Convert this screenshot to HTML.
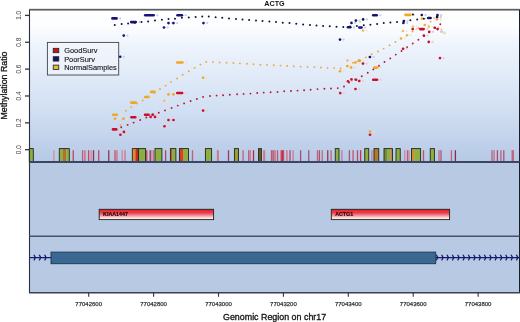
<!DOCTYPE html>
<html><head><meta charset="utf-8"><style>
html,body{margin:0;padding:0;background:#fff;width:520px;height:322px;overflow:hidden}
svg{display:block;will-change:transform}
</style></head><body>
<svg width="520" height="322" viewBox="0 0 520 322">
<defs>
<linearGradient id="bg" x1="0" y1="0" x2="0" y2="1">
<stop offset="0" stop-color="#ffffff"/>
<stop offset="0.1" stop-color="#fdfeff"/>
<stop offset="0.25" stop-color="#edf3fc"/>
<stop offset="0.65" stop-color="#d2e0f3"/>
<stop offset="1" stop-color="#b5c9e5"/>
</linearGradient>
<linearGradient id="gene" x1="0" y1="0" x2="0" y2="1">
<stop offset="0" stop-color="#d01c26"/>
<stop offset="0.15" stop-color="#e63036"/>
<stop offset="0.35" stop-color="#ea4046"/>
<stop offset="0.6" stop-color="#f0909a"/>
<stop offset="0.85" stop-color="#fde6e2"/>
<stop offset="1" stop-color="#fff4ee"/>
</linearGradient>
</defs>
<style>text{paint-order:stroke} .t1{stroke:#111;stroke-width:0.3px} .t2{stroke:#444;stroke-width:0.25px} .t3{stroke:#151515;stroke-width:0.12px}</style>
<rect x="0" y="0" width="520" height="322" fill="#ffffff"/>
<rect x="29.5" y="9.5" width="490.0" height="152.5" fill="url(#bg)"/>
<rect x="29.5" y="162.0" width="490.0" height="130.8" fill="#b7c9e3"/>

<rect x="29.30" y="148.6" width="4.00" height="13.40" fill="#8cae42"/>
<rect x="29.30" y="148.6" width="4.00" height="13.40" fill="none" stroke="#1e2a1a" stroke-width="0.9"/>
<rect x="59.30" y="148.6" width="3.50" height="13.40" fill="#8cae42"/>
<rect x="62.80" y="148.6" width="3.50" height="13.40" fill="#b0702a"/>
<rect x="66.30" y="148.6" width="3.00" height="13.40" fill="#8cae42"/>
<rect x="59.30" y="148.6" width="10.00" height="13.40" fill="none" stroke="#1e2a1a" stroke-width="0.9"/>
<rect x="132.30" y="148.6" width="3.15" height="13.40" fill="#e08a2a"/>
<rect x="135.45" y="148.6" width="3.15" height="13.40" fill="#c82a20"/>
<rect x="132.30" y="148.6" width="6.30" height="13.40" fill="none" stroke="#1e2a1a" stroke-width="0.9"/>
<rect x="138.60" y="148.6" width="7.00" height="13.40" fill="#8cae42"/>
<rect x="138.60" y="148.6" width="7.00" height="13.40" fill="none" stroke="#1e2a1a" stroke-width="0.9"/>
<rect x="155.00" y="148.6" width="6.90" height="13.40" fill="#8cae42"/>
<rect x="155.00" y="148.6" width="6.90" height="13.40" fill="none" stroke="#1e2a1a" stroke-width="0.9"/>
<rect x="170.40" y="148.6" width="2.20" height="13.40" fill="#c05a30"/>
<rect x="172.60" y="148.6" width="3.30" height="13.40" fill="#8cae42"/>
<rect x="170.40" y="148.6" width="5.50" height="13.40" fill="none" stroke="#1e2a1a" stroke-width="0.9"/>
<rect x="179.40" y="148.6" width="4.09" height="13.40" fill="#d8401e"/>
<rect x="183.50" y="148.6" width="5.00" height="13.40" fill="#8cae42"/>
<rect x="179.40" y="148.6" width="9.10" height="13.40" fill="none" stroke="#1e2a1a" stroke-width="0.9"/>
<rect x="205.40" y="148.6" width="6.20" height="13.40" fill="#8cae42"/>
<rect x="205.40" y="148.6" width="6.20" height="13.40" fill="none" stroke="#1e2a1a" stroke-width="0.9"/>
<rect x="234.40" y="148.6" width="4.10" height="13.40" fill="#9a9a3a"/>
<rect x="234.40" y="148.6" width="4.10" height="13.40" fill="none" stroke="#1e2a1a" stroke-width="0.9"/>
<rect x="258.50" y="148.6" width="2.90" height="13.40" fill="#6a5a2a"/>
<rect x="258.50" y="148.6" width="2.90" height="13.40" fill="none" stroke="#1e2a1a" stroke-width="0.9"/>
<rect x="335.25" y="148.6" width="3.75" height="13.40" fill="#8cae42"/>
<rect x="335.25" y="148.6" width="3.75" height="13.40" fill="none" stroke="#1e2a1a" stroke-width="0.9"/>
<rect x="364.75" y="148.6" width="4.00" height="13.40" fill="#8cae42"/>
<rect x="364.75" y="148.6" width="4.00" height="13.40" fill="none" stroke="#1e2a1a" stroke-width="0.9"/>
<rect x="374.00" y="148.6" width="4.75" height="13.40" fill="#b0782a"/>
<rect x="374.00" y="148.6" width="4.75" height="13.40" fill="none" stroke="#1e2a1a" stroke-width="0.9"/>
<rect x="384.00" y="148.6" width="3.40" height="13.40" fill="#788a3a"/>
<rect x="387.40" y="148.6" width="2.97" height="13.40" fill="#8cae42"/>
<rect x="390.38" y="148.6" width="2.12" height="13.40" fill="#c08a3a"/>
<rect x="384.00" y="148.6" width="8.50" height="13.40" fill="none" stroke="#1e2a1a" stroke-width="0.9"/>
<rect x="396.00" y="148.6" width="4.25" height="13.40" fill="#8cae42"/>
<rect x="396.00" y="148.6" width="4.25" height="13.40" fill="none" stroke="#1e2a1a" stroke-width="0.9"/>
<rect x="411.50" y="148.6" width="2.73" height="13.40" fill="#d88a2a"/>
<rect x="414.23" y="148.6" width="6.37" height="13.40" fill="#8cae42"/>
<rect x="411.50" y="148.6" width="9.10" height="13.40" fill="none" stroke="#1e2a1a" stroke-width="0.9"/>
<rect x="430.25" y="148.6" width="4.15" height="13.40" fill="#8cae42"/>
<rect x="430.25" y="148.6" width="4.15" height="13.40" fill="none" stroke="#1e2a1a" stroke-width="0.9"/>
<rect x="53.25" y="150.2" width="1.3" height="11.80" fill="#ca8b97" fill-opacity="0.9"/>
<rect x="72.60" y="150.2" width="1.3" height="11.80" fill="#c9344d" fill-opacity="0.9"/>
<rect x="81.95" y="150.2" width="1.3" height="11.80" fill="#d04763" fill-opacity="0.9"/>
<rect x="84.25" y="150.2" width="1.3" height="11.80" fill="#d0546f" fill-opacity="0.9"/>
<rect x="87.95" y="150.2" width="1.3" height="11.80" fill="#c2395a" fill-opacity="0.9"/>
<rect x="90.45" y="150.2" width="1.3" height="11.80" fill="#d77d91" fill-opacity="0.9"/>
<rect x="92.85" y="150.2" width="1.3" height="11.80" fill="#8c1e3f" fill-opacity="0.9"/>
<rect x="98.10" y="150.2" width="1.3" height="11.80" fill="#c23953" fill-opacity="0.9"/>
<rect x="108.10" y="150.2" width="1.3" height="11.80" fill="#8c2546" fill-opacity="0.9"/>
<rect x="114.35" y="150.2" width="1.3" height="11.80" fill="#d0415a" fill-opacity="0.9"/>
<rect x="116.25" y="150.2" width="1.3" height="11.80" fill="#d06275" fill-opacity="0.9"/>
<rect x="121.60" y="150.2" width="1.3" height="11.80" fill="#d77d91" fill-opacity="0.9"/>
<rect x="124.35" y="150.2" width="1.3" height="11.80" fill="#d0697c" fill-opacity="0.9"/>
<rect x="146.10" y="150.2" width="1.3" height="11.80" fill="#c22b3f" fill-opacity="0.9"/>
<rect x="149.55" y="150.2" width="1.3" height="11.80" fill="#8c1e4d" fill-opacity="0.9"/>
<rect x="150.95" y="150.2" width="1.3" height="11.80" fill="#de8b9e" fill-opacity="0.9"/>
<rect x="152.75" y="150.2" width="1.3" height="11.80" fill="#d06268" fill-opacity="0.9"/>
<rect x="164.95" y="150.2" width="1.3" height="11.80" fill="#b53253" fill-opacity="0.9"/>
<rect x="191.85" y="150.2" width="1.3" height="11.80" fill="#c25468" fill-opacity="0.9"/>
<rect x="216.85" y="150.2" width="1.3" height="11.80" fill="#d0768a" fill-opacity="0.9"/>
<rect x="217.65" y="150.2" width="1.3" height="11.80" fill="#d0768a" fill-opacity="0.9"/>
<rect x="227.85" y="150.2" width="1.3" height="11.80" fill="#9a2b4d" fill-opacity="0.9"/>
<rect x="242.45" y="150.2" width="1.3" height="11.80" fill="#c2546f" fill-opacity="0.9"/>
<rect x="248.10" y="150.2" width="1.3" height="11.80" fill="#c24768" fill-opacity="0.9"/>
<rect x="249.60" y="150.2" width="1.3" height="11.80" fill="#d06983" fill-opacity="0.9"/>
<rect x="252.85" y="150.2" width="1.3" height="11.80" fill="#b51731" fill-opacity="0.9"/>
<rect x="263.10" y="150.2" width="1.3" height="11.80" fill="#d0768a" fill-opacity="0.9"/>
<rect x="263.95" y="150.2" width="1.3" height="11.80" fill="#d0768a" fill-opacity="0.9"/>
<rect x="270.85" y="150.2" width="1.3" height="11.80" fill="#c24761" fill-opacity="0.9"/>
<rect x="272.45" y="150.2" width="1.3" height="11.80" fill="#b5395a" fill-opacity="0.9"/>
<rect x="274.35" y="150.2" width="1.3" height="11.80" fill="#c95468" fill-opacity="0.9"/>
<rect x="276.85" y="150.2" width="1.3" height="11.80" fill="#c2475a" fill-opacity="0.9"/>
<rect x="280.55" y="150.2" width="1.3" height="11.80" fill="#d02b46" fill-opacity="0.9"/>
<rect x="281.75" y="150.2" width="1.3" height="11.80" fill="#c91e38" fill-opacity="0.9"/>
<rect x="282.85" y="150.2" width="1.3" height="11.80" fill="#d0394d" fill-opacity="0.9"/>
<rect x="286.25" y="150.2" width="1.3" height="11.80" fill="#d06275" fill-opacity="0.9"/>
<rect x="289.35" y="150.2" width="1.3" height="11.80" fill="#b5395a" fill-opacity="0.9"/>
<rect x="292.45" y="150.2" width="1.3" height="11.80" fill="#d06f83" fill-opacity="0.9"/>
<rect x="299.95" y="150.2" width="1.3" height="11.80" fill="#a74068" fill-opacity="0.9"/>
<rect x="308.10" y="150.2" width="1.3" height="11.80" fill="#a04768" fill-opacity="0.9"/>
<rect x="316.85" y="150.2" width="1.3" height="11.80" fill="#c25468" fill-opacity="0.9"/>
<rect x="318.75" y="150.2" width="1.3" height="11.80" fill="#b5405a" fill-opacity="0.9"/>
<rect x="321.60" y="150.2" width="1.3" height="11.80" fill="#c26275" fill-opacity="0.9"/>
<rect x="327.10" y="150.2" width="1.3" height="11.80" fill="#8c2546" fill-opacity="0.9"/>
<rect x="330.45" y="150.2" width="1.3" height="11.80" fill="#c2546f" fill-opacity="0.9"/>
<rect x="341.25" y="150.2" width="1.3" height="11.80" fill="#c26f91" fill-opacity="0.9"/>
<rect x="348.75" y="150.2" width="1.3" height="11.80" fill="#a74768" fill-opacity="0.9"/>
<rect x="352.45" y="150.2" width="1.3" height="11.80" fill="#c24761" fill-opacity="0.9"/>
<rect x="356.85" y="150.2" width="1.3" height="11.80" fill="#b54061" fill-opacity="0.9"/>
<rect x="359.95" y="150.2" width="1.3" height="11.80" fill="#d01e3f" fill-opacity="0.9"/>
<rect x="371.25" y="150.2" width="1.3" height="11.80" fill="#c26f91" fill-opacity="0.9"/>
<rect x="404.10" y="150.2" width="1.3" height="11.80" fill="#d77d91" fill-opacity="0.9"/>
<rect x="406.85" y="150.2" width="1.3" height="11.80" fill="#b5546f" fill-opacity="0.9"/>
<rect x="408.35" y="150.2" width="1.3" height="11.80" fill="#d77d97" fill-opacity="0.9"/>
<rect x="422.85" y="150.2" width="1.3" height="11.80" fill="#c2415a" fill-opacity="0.9"/>
<rect x="438.35" y="150.2" width="1.3" height="11.80" fill="#c25d75" fill-opacity="0.9"/>
<rect x="440.35" y="150.2" width="1.3" height="11.80" fill="#b54768" fill-opacity="0.9"/>
<rect x="450.75" y="150.2" width="1.3" height="11.80" fill="#c2546f" fill-opacity="0.9"/>
<rect x="454.75" y="150.2" width="1.3" height="11.80" fill="#7e1e3f" fill-opacity="0.9"/>
<rect x="491.35" y="150.2" width="1.3" height="11.80" fill="#b5546f" fill-opacity="0.9"/>
<rect x="493.45" y="150.2" width="1.3" height="11.80" fill="#c2627c" fill-opacity="0.9"/>
<rect x="496.75" y="150.2" width="1.3" height="11.80" fill="#a74061" fill-opacity="0.9"/>
<rect x="500.25" y="150.2" width="1.3" height="11.80" fill="#c2546f" fill-opacity="0.9"/>
<rect x="503.15" y="150.2" width="1.3" height="11.80" fill="#a74768" fill-opacity="0.9"/>
<rect x="511.55" y="150.2" width="1.3" height="11.80" fill="#c25468" fill-opacity="0.9"/>
<rect x="512.65" y="150.2" width="1.3" height="11.80" fill="#c25468" fill-opacity="0.9"/>
<rect x="119.30" y="113.65" width="2.2" height="2.2" rx="1.1" fill="#e8e4c0"/><rect x="117.60" y="117.60" width="2.2" height="2.2" rx="1.1" fill="#e8e4c0"/><rect x="126.10" y="117.60" width="2.2" height="2.2" rx="1.1" fill="#e8e4c0"/><rect x="138.20" y="101.50" width="2.2" height="2.2" rx="1.1" fill="#e8e4c0"/><rect x="150.90" y="95.90" width="2.2" height="2.2" rx="1.1" fill="#e8e4c0"/><rect x="157.10" y="90.80" width="2.2" height="2.2" rx="1.1" fill="#e8e4c0"/><rect x="171.10" y="93.30" width="2.2" height="2.2" rx="1.1" fill="#e8e4c0"/><rect x="176.10" y="93.30" width="2.2" height="2.2" rx="1.1" fill="#e8e4c0"/><rect x="185.00" y="61.40" width="2.2" height="2.2" rx="1.1" fill="#e8e4c0"/><rect x="205.70" y="76.65" width="2.2" height="2.2" rx="1.1" fill="#e8e4c0"/><rect x="342.60" y="70.15" width="2.2" height="2.2" rx="1.1" fill="#e8e4c0"/><rect x="353.70" y="66.50" width="2.2" height="2.2" rx="1.1" fill="#e8e4c0"/><rect x="350.00" y="65.00" width="2.2" height="2.2" rx="1.1" fill="#e8e4c0"/><rect x="358.10" y="61.30" width="2.2" height="2.2" rx="1.1" fill="#e8e4c0"/><rect x="362.60" y="59.65" width="2.2" height="2.2" rx="1.1" fill="#e8e4c0"/><rect x="379.70" y="66.50" width="2.2" height="2.2" rx="1.1" fill="#e8e4c0"/><rect x="372.60" y="130.40" width="2.2" height="2.2" rx="1.1" fill="#e8e4c0"/><rect x="412.90" y="13.80" width="2.2" height="2.2" rx="1.1" fill="#e8e4c0"/><rect x="424.60" y="17.50" width="2.2" height="2.2" rx="1.1" fill="#e8e4c0"/><rect x="439.60" y="18.20" width="2.2" height="2.2" rx="1.1" fill="#e8e4c0"/><rect x="111.95" y="113.45" width="6.10" height="2.6" rx="1.3" fill="#f0a828"/><rect x="113.65" y="117.40" width="2.70" height="2.6" rx="1.3" fill="#f0a828"/><rect x="122.15" y="117.40" width="2.70" height="2.6" rx="1.3" fill="#f0a828"/><rect x="129.85" y="101.30" width="7.10" height="2.6" rx="1.3" fill="#f0a828"/><rect x="143.85" y="95.70" width="5.80" height="2.6" rx="1.3" fill="#f0a828"/><rect x="149.85" y="90.60" width="6.00" height="2.6" rx="1.3" fill="#f0a828"/><rect x="167.15" y="93.10" width="2.70" height="2.6" rx="1.3" fill="#f0a828"/><rect x="172.15" y="93.10" width="2.70" height="2.6" rx="1.3" fill="#f0a828"/><rect x="175.95" y="61.20" width="7.80" height="2.6" rx="1.3" fill="#f0a828"/><rect x="201.75" y="76.45" width="2.70" height="2.6" rx="1.3" fill="#f0a828"/><rect x="338.65" y="69.95" width="2.70" height="2.6" rx="1.3" fill="#f0a828"/><rect x="349.75" y="66.30" width="2.70" height="2.6" rx="1.3" fill="#f0a828"/><rect x="346.05" y="64.80" width="2.70" height="2.6" rx="1.3" fill="#f0a828"/><rect x="354.15" y="61.10" width="2.70" height="2.6" rx="1.3" fill="#f0a828"/><rect x="357.15" y="59.45" width="4.20" height="2.6" rx="1.3" fill="#f0a828"/><rect x="373.05" y="66.30" width="5.40" height="2.6" rx="1.3" fill="#f0a828"/><rect x="368.65" y="130.20" width="2.70" height="2.6" rx="1.3" fill="#f0a828"/><rect x="404.15" y="13.60" width="7.50" height="2.6" rx="1.3" fill="#f0a828"/><rect x="420.65" y="17.30" width="2.70" height="2.6" rx="1.3" fill="#f0a828"/><rect x="435.65" y="18.00" width="2.70" height="2.6" rx="1.3" fill="#f0a828"/>
<rect x="166.80" y="99.70" width="2.2" height="2.2" rx="1.1" fill="#eeead0"/><rect x="405.50" y="29.90" width="2.2" height="2.2" rx="1.1" fill="#eeead0"/><rect x="403.60" y="37.30" width="2.2" height="2.2" rx="1.1" fill="#eeead0"/><rect x="409.70" y="34.10" width="2.2" height="2.2" rx="1.1" fill="#eeead0"/><rect x="415.50" y="25.40" width="2.2" height="2.2" rx="1.1" fill="#eeead0"/><rect x="427.50" y="24.00" width="2.2" height="2.2" rx="1.1" fill="#eeead0"/><rect x="431.40" y="25.70" width="2.2" height="2.2" rx="1.1" fill="#eeead0"/><rect x="350.10" y="59.50" width="2.2" height="2.2" rx="1.1" fill="#eeead0"/><rect x="365.70" y="29.50" width="2.2" height="2.2" rx="1.1" fill="#eeead0"/><rect x="162.85" y="99.50" width="2.70" height="2.6" rx="1.3" fill="#f0c068"/><rect x="401.55" y="29.70" width="2.70" height="2.6" rx="1.3" fill="#f0c068"/><rect x="399.65" y="37.10" width="2.70" height="2.6" rx="1.3" fill="#f0c068"/><rect x="405.75" y="33.90" width="2.70" height="2.6" rx="1.3" fill="#f0c068"/><rect x="411.55" y="25.20" width="2.70" height="2.6" rx="1.3" fill="#f0c068"/><rect x="423.55" y="23.80" width="2.70" height="2.6" rx="1.3" fill="#f0c068"/><rect x="427.45" y="25.50" width="2.70" height="2.6" rx="1.3" fill="#f0c068"/><rect x="346.15" y="59.30" width="2.70" height="2.6" rx="1.3" fill="#f0c068"/><rect x="361.75" y="29.30" width="2.70" height="2.6" rx="1.3" fill="#f0c068"/>
<rect x="167.10" y="125.10" width="2.2" height="2.2" rx="1.1" fill="#f0c8d0"/><rect x="118.80" y="128.30" width="2.2" height="2.2" rx="1.1" fill="#f0c8d0"/><rect x="126.50" y="130.80" width="2.2" height="2.2" rx="1.1" fill="#f0c8d0"/><rect x="123.00" y="133.70" width="2.2" height="2.2" rx="1.1" fill="#f0c8d0"/><rect x="137.80" y="116.10" width="2.2" height="2.2" rx="1.1" fill="#f0c8d0"/><rect x="151.20" y="113.65" width="2.2" height="2.2" rx="1.1" fill="#f0c8d0"/><rect x="153.20" y="115.80" width="2.2" height="2.2" rx="1.1" fill="#f0c8d0"/><rect x="157.60" y="115.80" width="2.2" height="2.2" rx="1.1" fill="#f0c8d0"/><rect x="155.30" y="113.50" width="2.2" height="2.2" rx="1.1" fill="#f0c8d0"/><rect x="171.10" y="118.90" width="2.2" height="2.2" rx="1.1" fill="#f0c8d0"/><rect x="176.10" y="118.90" width="2.2" height="2.2" rx="1.1" fill="#f0c8d0"/><rect x="184.70" y="91.90" width="2.2" height="2.2" rx="1.1" fill="#f0c8d0"/><rect x="205.70" y="109.50" width="2.2" height="2.2" rx="1.1" fill="#f0c8d0"/><rect x="342.85" y="92.00" width="2.2" height="2.2" rx="1.1" fill="#f0c8d0"/><rect x="358.10" y="87.90" width="2.2" height="2.2" rx="1.1" fill="#f0c8d0"/><rect x="354.10" y="78.30" width="2.2" height="2.2" rx="1.1" fill="#f0c8d0"/><rect x="358.70" y="78.65" width="2.2" height="2.2" rx="1.1" fill="#f0c8d0"/><rect x="361.85" y="79.90" width="2.2" height="2.2" rx="1.1" fill="#f0c8d0"/><rect x="350.60" y="80.15" width="2.2" height="2.2" rx="1.1" fill="#f0c8d0"/><rect x="379.60" y="78.65" width="2.2" height="2.2" rx="1.1" fill="#f0c8d0"/><rect x="365.60" y="62.50" width="2.2" height="2.2" rx="1.1" fill="#f0c8d0"/><rect x="372.60" y="133.70" width="2.2" height="2.2" rx="1.1" fill="#f0c8d0"/><rect x="405.70" y="47.65" width="2.2" height="2.2" rx="1.1" fill="#f0c8d0"/><rect x="431.35" y="40.80" width="2.2" height="2.2" rx="1.1" fill="#f0c8d0"/><rect x="442.60" y="57.00" width="2.2" height="2.2" rx="1.1" fill="#f0c8d0"/><rect x="415.30" y="28.00" width="2.2" height="2.2" rx="1.1" fill="#f0c8d0"/><rect x="426.20" y="28.00" width="2.2" height="2.2" rx="1.1" fill="#f0c8d0"/><rect x="426.50" y="34.50" width="2.2" height="2.2" rx="1.1" fill="#f0c8d0"/><rect x="437.40" y="26.60" width="2.2" height="2.2" rx="1.1" fill="#f0c8d0"/><rect x="440.20" y="28.00" width="2.2" height="2.2" rx="1.1" fill="#f0c8d0"/><rect x="431.80" y="30.80" width="2.2" height="2.2" rx="1.1" fill="#f0c8d0"/><rect x="163.15" y="124.90" width="2.70" height="2.6" rx="1.3" fill="#c8102e"/><rect x="111.65" y="128.10" width="5.90" height="2.6" rx="1.3" fill="#c8102e"/><rect x="122.55" y="130.60" width="2.70" height="2.6" rx="1.3" fill="#c8102e"/><rect x="119.05" y="133.50" width="2.70" height="2.6" rx="1.3" fill="#c8102e"/><rect x="130.15" y="115.90" width="6.40" height="2.6" rx="1.3" fill="#c8102e"/><rect x="143.75" y="113.45" width="6.20" height="2.6" rx="1.3" fill="#c8102e"/><rect x="149.25" y="115.60" width="2.70" height="2.6" rx="1.3" fill="#c8102e"/><rect x="153.65" y="115.60" width="2.70" height="2.6" rx="1.3" fill="#c8102e"/><rect x="151.35" y="113.30" width="2.70" height="2.6" rx="1.3" fill="#c8102e"/><rect x="167.15" y="118.70" width="2.70" height="2.6" rx="1.3" fill="#c8102e"/><rect x="172.15" y="118.70" width="2.70" height="2.6" rx="1.3" fill="#c8102e"/><rect x="175.95" y="91.70" width="7.50" height="2.6" rx="1.3" fill="#c8102e"/><rect x="201.75" y="109.30" width="2.70" height="2.6" rx="1.3" fill="#c8102e"/><rect x="338.90" y="91.80" width="2.70" height="2.6" rx="1.3" fill="#c8102e"/><rect x="354.15" y="87.70" width="2.70" height="2.6" rx="1.3" fill="#c8102e"/><rect x="350.15" y="78.10" width="2.70" height="2.6" rx="1.3" fill="#c8102e"/><rect x="354.75" y="78.45" width="2.70" height="2.6" rx="1.3" fill="#c8102e"/><rect x="357.90" y="79.70" width="2.70" height="2.6" rx="1.3" fill="#c8102e"/><rect x="346.65" y="79.95" width="2.70" height="2.6" rx="1.3" fill="#c8102e"/><rect x="371.95" y="78.45" width="6.40" height="2.6" rx="1.3" fill="#c8102e"/><rect x="361.65" y="62.30" width="2.70" height="2.6" rx="1.3" fill="#c8102e"/><rect x="368.65" y="133.50" width="2.70" height="2.6" rx="1.3" fill="#c8102e"/><rect x="401.75" y="47.45" width="2.70" height="2.6" rx="1.3" fill="#c8102e"/><rect x="427.40" y="40.60" width="2.70" height="2.6" rx="1.3" fill="#c8102e"/><rect x="438.65" y="56.80" width="2.70" height="2.6" rx="1.3" fill="#c8102e"/><rect x="411.35" y="27.80" width="2.70" height="2.6" rx="1.3" fill="#c8102e"/><rect x="418.85" y="27.80" width="6.10" height="2.6" rx="1.3" fill="#c8102e"/><rect x="422.55" y="34.30" width="2.70" height="2.6" rx="1.3" fill="#c8102e"/><rect x="433.45" y="26.40" width="2.70" height="2.6" rx="1.3" fill="#c8102e"/><rect x="436.25" y="27.80" width="2.70" height="2.6" rx="1.3" fill="#c8102e"/><rect x="427.85" y="30.60" width="2.70" height="2.6" rx="1.3" fill="#c8102e"/>
<circle cx="412.9" cy="14.5" r="1.1" fill="#141050"/><circle cx="441.5" cy="31.5" r="1.6" fill="#d8c8d0"/><circle cx="444.5" cy="33" r="1.6" fill="#e8e0c0"/><circle cx="360" cy="21.9" r="1.3" fill="#f0e0a0"/>
<rect x="119.10" y="17.30" width="2.2" height="2.2" rx="1.1" fill="#c8cce4"/><rect x="138.30" y="21.00" width="2.2" height="2.2" rx="1.1" fill="#c8cce4"/><rect x="156.20" y="14.20" width="2.2" height="2.2" rx="1.1" fill="#c8cce4"/><rect x="184.50" y="14.15" width="2.2" height="2.2" rx="1.1" fill="#c8cce4"/><rect x="126.35" y="34.50" width="2.2" height="2.2" rx="1.1" fill="#c8cce4"/><rect x="122.80" y="55.70" width="2.2" height="2.2" rx="1.1" fill="#c8cce4"/><rect x="166.60" y="26.40" width="2.2" height="2.2" rx="1.1" fill="#c8cce4"/><rect x="171.10" y="22.00" width="2.2" height="2.2" rx="1.1" fill="#c8cce4"/><rect x="176.10" y="22.00" width="2.2" height="2.2" rx="1.1" fill="#c8cce4"/><rect x="206.10" y="22.00" width="2.2" height="2.2" rx="1.1" fill="#c8cce4"/><rect x="342.60" y="38.50" width="2.2" height="2.2" rx="1.1" fill="#c8cce4"/><rect x="352.90" y="26.20" width="2.2" height="2.2" rx="1.1" fill="#c8cce4"/><rect x="354.10" y="21.80" width="2.2" height="2.2" rx="1.1" fill="#c8cce4"/><rect x="358.50" y="19.50" width="2.2" height="2.2" rx="1.1" fill="#c8cce4"/><rect x="364.10" y="26.40" width="2.2" height="2.2" rx="1.1" fill="#c8cce4"/><rect x="365.70" y="18.30" width="2.2" height="2.2" rx="1.1" fill="#c8cce4"/><rect x="379.30" y="14.15" width="2.2" height="2.2" rx="1.1" fill="#c8cce4"/><rect x="372.50" y="55.90" width="2.2" height="2.2" rx="1.1" fill="#c8cce4"/><rect x="406.00" y="21.90" width="2.2" height="2.2" rx="1.1" fill="#c8cce4"/><rect x="406.50" y="19.90" width="2.2" height="2.2" rx="1.1" fill="#c8cce4"/><rect x="424.40" y="13.90" width="2.2" height="2.2" rx="1.1" fill="#c8cce4"/><rect x="433.00" y="16.90" width="2.2" height="2.2" rx="1.1" fill="#c8cce4"/><rect x="440.10" y="13.90" width="2.2" height="2.2" rx="1.1" fill="#c8cce4"/><rect x="439.70" y="15.80" width="2.2" height="2.2" rx="1.1" fill="#c8cce4"/><rect x="111.15" y="17.10" width="6.70" height="2.6" rx="1.3" fill="#16127a"/><rect x="129.85" y="20.80" width="7.20" height="2.6" rx="1.3" fill="#16127a"/><rect x="143.95" y="14.00" width="11.00" height="2.6" rx="1.3" fill="#16127a"/><rect x="176.15" y="13.95" width="7.10" height="2.6" rx="1.3" fill="#16127a"/><rect x="122.40" y="34.30" width="2.70" height="2.6" rx="1.3" fill="#16127a"/><rect x="118.85" y="55.50" width="2.70" height="2.6" rx="1.3" fill="#16127a"/><rect x="162.65" y="26.20" width="2.70" height="2.6" rx="1.3" fill="#16127a"/><rect x="167.15" y="21.80" width="2.70" height="2.6" rx="1.3" fill="#16127a"/><rect x="172.15" y="21.80" width="2.70" height="2.6" rx="1.3" fill="#16127a"/><rect x="202.15" y="21.80" width="2.70" height="2.6" rx="1.3" fill="#16127a"/><rect x="338.65" y="38.30" width="2.70" height="2.6" rx="1.3" fill="#16127a"/><rect x="346.65" y="26.00" width="5.00" height="2.6" rx="1.3" fill="#16127a"/><rect x="350.15" y="21.60" width="2.70" height="2.6" rx="1.3" fill="#16127a"/><rect x="354.55" y="19.30" width="2.70" height="2.6" rx="1.3" fill="#16127a"/><rect x="358.05" y="26.20" width="4.80" height="2.6" rx="1.3" fill="#16127a"/><rect x="361.75" y="18.10" width="2.70" height="2.6" rx="1.3" fill="#16127a"/><rect x="371.95" y="13.95" width="6.10" height="2.6" rx="1.3" fill="#16127a"/><rect x="368.55" y="55.70" width="2.70" height="2.6" rx="1.3" fill="#16127a"/><rect x="402.05" y="21.70" width="2.70" height="2.6" rx="1.3" fill="#16127a"/><rect x="402.55" y="19.70" width="2.70" height="2.6" rx="1.3" fill="#16127a"/><rect x="420.45" y="13.70" width="2.70" height="2.6" rx="1.3" fill="#16127a"/><rect x="426.95" y="16.70" width="4.80" height="2.6" rx="1.3" fill="#16127a"/><rect x="436.15" y="13.70" width="2.70" height="2.6" rx="1.3" fill="#16127a"/><rect x="435.75" y="15.60" width="2.70" height="2.6" rx="1.3" fill="#16127a"/>
<circle cx="120.4" cy="125.1" r="0.95" fill="#e6aa44"/><circle cx="123.5" cy="118.7" r="0.95" fill="#e6aa44"/><circle cx="125.9" cy="110.8" r="0.95" fill="#e6aa44"/><circle cx="131.3" cy="107.1" r="0.95" fill="#e6aa44"/><circle cx="137" cy="103.5" r="0.95" fill="#e6aa44"/><circle cx="142.7" cy="100.4" r="0.95" fill="#e6aa44"/><circle cx="148.5" cy="96.5" r="0.95" fill="#e6aa44"/><circle cx="154.3" cy="92.8" r="0.95" fill="#e6aa44"/><circle cx="160" cy="89" r="0.95" fill="#e6aa44"/><circle cx="165.6" cy="85.6" r="0.95" fill="#e6aa44"/><circle cx="171" cy="81.9" r="0.95" fill="#e6aa44"/><circle cx="177.1" cy="78.5" r="0.95" fill="#e6aa44"/><circle cx="182.75" cy="74.75" r="0.95" fill="#e6aa44"/><circle cx="188.75" cy="71.25" r="0.95" fill="#e6aa44"/><circle cx="194.6" cy="67.9" r="0.95" fill="#e6aa44"/><circle cx="200.4" cy="64.6" r="0.95" fill="#e6aa44"/><circle cx="206.25" cy="61.9" r="0.95" fill="#e6aa44"/><circle cx="212.9" cy="62.1" r="0.95" fill="#e6aa44"/><circle cx="219.6" cy="62.5" r="0.95" fill="#e6aa44"/><circle cx="226.5" cy="62.7" r="0.95" fill="#e6aa44"/><circle cx="233.4" cy="63" r="0.95" fill="#e6aa44"/><circle cx="239.9" cy="63.4" r="0.95" fill="#e6aa44"/><circle cx="247" cy="63.8" r="0.95" fill="#e6aa44"/><circle cx="253.5" cy="64.2" r="0.95" fill="#e6aa44"/><circle cx="260.4" cy="64.7" r="0.95" fill="#e6aa44"/><circle cx="266.9" cy="64.9" r="0.95" fill="#e6aa44"/><circle cx="273.8" cy="65.3" r="0.95" fill="#e6aa44"/><circle cx="280.5" cy="65.6" r="0.95" fill="#e6aa44"/><circle cx="287.2" cy="66" r="0.95" fill="#e6aa44"/><circle cx="293.75" cy="66.25" r="0.95" fill="#e6aa44"/><circle cx="300.6" cy="66.6" r="0.95" fill="#e6aa44"/><circle cx="307.5" cy="66.9" r="0.95" fill="#e6aa44"/><circle cx="314.4" cy="67.1" r="0.95" fill="#e6aa44"/><circle cx="321" cy="67.5" r="0.95" fill="#e6aa44"/><circle cx="327.5" cy="67.9" r="0.95" fill="#e6aa44"/><circle cx="334.1" cy="68.1" r="0.95" fill="#e6aa44"/><circle cx="340.6" cy="68.5" r="0.95" fill="#e6aa44"/><circle cx="347.2" cy="66" r="0.95" fill="#e6aa44"/><circle cx="353" cy="62.8" r="0.95" fill="#e6aa44"/><circle cx="359.3" cy="60" r="0.95" fill="#e6aa44"/><circle cx="365.75" cy="57.4" r="0.95" fill="#e6aa44"/><circle cx="371.75" cy="54.25" r="0.95" fill="#e6aa44"/><circle cx="378" cy="51.5" r="0.95" fill="#e6aa44"/><circle cx="383.6" cy="48.6" r="0.95" fill="#e6aa44"/><circle cx="389.5" cy="45.25" r="0.95" fill="#e6aa44"/><circle cx="395.5" cy="42" r="0.95" fill="#e6aa44"/><circle cx="401.1" cy="38.6" r="0.95" fill="#e6aa44"/><circle cx="406.8" cy="35.2" r="0.95" fill="#e6aa44"/><circle cx="412.5" cy="31.5" r="0.95" fill="#e6aa44"/><circle cx="418.5" cy="28" r="0.95" fill="#e6aa44"/><circle cx="424.5" cy="24.9" r="0.95" fill="#e6aa44"/><circle cx="430.6" cy="21.6" r="0.95" fill="#e6aa44"/><circle cx="436.6" cy="19.3" r="0.95" fill="#e6aa44"/>
<circle cx="121.2" cy="127.3" r="0.95" fill="#b01832"/><circle cx="127.6" cy="124.9" r="0.95" fill="#b01832"/><circle cx="133.6" cy="122.6" r="0.95" fill="#b01832"/><circle cx="140.2" cy="120" r="0.95" fill="#b01832"/><circle cx="146.3" cy="117.5" r="0.95" fill="#b01832"/><circle cx="152.5" cy="115" r="0.95" fill="#b01832"/><circle cx="158.75" cy="112.75" r="0.95" fill="#b01832"/><circle cx="165" cy="110.4" r="0.95" fill="#b01832"/><circle cx="171.6" cy="107.9" r="0.95" fill="#b01832"/><circle cx="177.75" cy="105.6" r="0.95" fill="#b01832"/><circle cx="184.1" cy="103.4" r="0.95" fill="#b01832"/><circle cx="190.6" cy="101" r="0.95" fill="#b01832"/><circle cx="196.9" cy="99" r="0.95" fill="#b01832"/><circle cx="203.1" cy="96.9" r="0.95" fill="#b01832"/><circle cx="210" cy="96" r="0.95" fill="#b01832"/><circle cx="216.6" cy="95.6" r="0.95" fill="#b01832"/><circle cx="223.1" cy="95.25" r="0.95" fill="#b01832"/><circle cx="229.8" cy="94.75" r="0.95" fill="#b01832"/><circle cx="237.1" cy="94.3" r="0.95" fill="#b01832"/><circle cx="243.6" cy="93.9" r="0.95" fill="#b01832"/><circle cx="250.5" cy="93.6" r="0.95" fill="#b01832"/><circle cx="257.2" cy="93" r="0.95" fill="#b01832"/><circle cx="263.7" cy="92.6" r="0.95" fill="#b01832"/><circle cx="270.6" cy="92.3" r="0.95" fill="#b01832"/><circle cx="277.5" cy="91.9" r="0.95" fill="#b01832"/><circle cx="284.2" cy="91.3" r="0.95" fill="#b01832"/><circle cx="291" cy="91" r="0.95" fill="#b01832"/><circle cx="297.5" cy="90.6" r="0.95" fill="#b01832"/><circle cx="304.1" cy="90.25" r="0.95" fill="#b01832"/><circle cx="310.6" cy="89.75" r="0.95" fill="#b01832"/><circle cx="317.5" cy="89.1" r="0.95" fill="#b01832"/><circle cx="324.4" cy="88.75" r="0.95" fill="#b01832"/><circle cx="331" cy="88.5" r="0.95" fill="#b01832"/><circle cx="337.75" cy="88.1" r="0.95" fill="#b01832"/><circle cx="344" cy="86.5" r="0.95" fill="#b01832"/><circle cx="349" cy="82.5" r="0.95" fill="#b01832"/><circle cx="355.3" cy="79.5" r="0.95" fill="#b01832"/><circle cx="361.75" cy="76.25" r="0.95" fill="#b01832"/><circle cx="367.75" cy="72.75" r="0.95" fill="#b01832"/><circle cx="373.3" cy="69.4" r="0.95" fill="#b01832"/><circle cx="379" cy="65.75" r="0.95" fill="#b01832"/><circle cx="384.5" cy="62" r="0.95" fill="#b01832"/><circle cx="390.25" cy="58.4" r="0.95" fill="#b01832"/><circle cx="395.75" cy="54.6" r="0.95" fill="#b01832"/><circle cx="401.5" cy="51" r="0.95" fill="#b01832"/><circle cx="407.1" cy="47.1" r="0.95" fill="#b01832"/><circle cx="412.75" cy="43.5" r="0.95" fill="#b01832"/><circle cx="418.4" cy="39.75" r="0.95" fill="#b01832"/><circle cx="424" cy="36" r="0.95" fill="#b01832"/><circle cx="429.2" cy="31.9" r="0.95" fill="#b01832"/><circle cx="434.8" cy="27.7" r="0.95" fill="#b01832"/><circle cx="440.3" cy="24.2" r="0.95" fill="#b01832"/>
<circle cx="114.75" cy="25" r="1.0" fill="#121038"/><circle cx="121.6" cy="24.1" r="1.0" fill="#121038"/><circle cx="128.1" cy="23.5" r="1.0" fill="#121038"/><circle cx="134.8" cy="22.8" r="1.0" fill="#121038"/><circle cx="141.5" cy="22.1" r="1.0" fill="#121038"/><circle cx="148.1" cy="21.5" r="1.0" fill="#121038"/><circle cx="155" cy="20.6" r="1.0" fill="#121038"/><circle cx="161.9" cy="19.75" r="1.0" fill="#121038"/><circle cx="168.5" cy="19.1" r="1.0" fill="#121038"/><circle cx="175" cy="18.75" r="1.0" fill="#121038"/><circle cx="181.9" cy="17.75" r="1.0" fill="#121038"/><circle cx="188.75" cy="17.5" r="1.0" fill="#121038"/><circle cx="195.6" cy="17.1" r="1.0" fill="#121038"/><circle cx="202.25" cy="16.6" r="1.0" fill="#121038"/><circle cx="208.75" cy="16.6" r="1.0" fill="#121038"/><circle cx="215.6" cy="17.25" r="1.0" fill="#121038"/><circle cx="222.25" cy="17.75" r="1.0" fill="#121038"/><circle cx="229" cy="18.4" r="1.0" fill="#121038"/><circle cx="236" cy="19" r="1.0" fill="#121038"/><circle cx="242.5" cy="19.4" r="1.0" fill="#121038"/><circle cx="249.1" cy="20" r="1.0" fill="#121038"/><circle cx="256" cy="20.6" r="1.0" fill="#121038"/><circle cx="262.5" cy="21" r="1.0" fill="#121038"/><circle cx="269.4" cy="21.6" r="1.0" fill="#121038"/><circle cx="276" cy="22.1" r="1.0" fill="#121038"/><circle cx="282.75" cy="22.75" r="1.0" fill="#121038"/><circle cx="289.5" cy="23.1" r="1.0" fill="#121038"/><circle cx="296.25" cy="23.75" r="1.0" fill="#121038"/><circle cx="303.1" cy="24.4" r="1.0" fill="#121038"/><circle cx="310" cy="25" r="1.0" fill="#121038"/><circle cx="316.5" cy="25.4" r="1.0" fill="#121038"/><circle cx="323.1" cy="26" r="1.0" fill="#121038"/><circle cx="329.75" cy="26.25" r="1.0" fill="#121038"/><circle cx="336.5" cy="26.75" r="1.0" fill="#121038"/><circle cx="343.3" cy="27" r="1.0" fill="#121038"/><circle cx="350.1" cy="26.6" r="1.0" fill="#121038"/><circle cx="356.9" cy="26" r="1.0" fill="#121038"/><circle cx="363.75" cy="25.25" r="1.0" fill="#121038"/><circle cx="370.4" cy="24.75" r="1.0" fill="#121038"/><circle cx="377.1" cy="24" r="1.0" fill="#121038"/><circle cx="383.75" cy="23.1" r="1.0" fill="#121038"/><circle cx="390.4" cy="22.5" r="1.0" fill="#121038"/><circle cx="397" cy="21.9" r="1.0" fill="#121038"/><circle cx="403.7" cy="21.1" r="1.0" fill="#121038"/><circle cx="410.4" cy="20.25" r="1.0" fill="#121038"/><circle cx="417.2" cy="19.4" r="1.0" fill="#121038"/><circle cx="423.9" cy="18.7" r="1.0" fill="#121038"/><circle cx="430.6" cy="17.9" r="1.0" fill="#121038"/><circle cx="437.1" cy="17" r="1.0" fill="#121038"/>
<text x="274.5" y="6.3" font-family='"Liberation Sans", sans-serif' font-size="7.2" font-weight="bold" text-anchor="middle" fill="#111">ACTG</text>
<line x1="29.5" y1="9.5" x2="29.5" y2="292.8" stroke="#2a3040" stroke-width="1.1"/>
<line x1="519.5" y1="9.5" x2="519.5" y2="292.8" stroke="#1a1e28" stroke-width="1.0"/>
<line x1="29.0" y1="292.8" x2="520.0" y2="292.8" stroke="#3a4152" stroke-width="1.4"/>
<rect x="29.0" y="9" width="491.0" height="1" fill="#5c5c5e"/>
<rect x="30.0" y="10" width="489.0" height="1" fill="#a4a6a8"/>
<rect x="29.0" y="8" width="491.0" height="1" fill="#e4e4e4"/>
<line x1="29.5" y1="162.0" x2="519.5" y2="162.0" stroke="#3a4764" stroke-width="1.9"/>
<line x1="29.5" y1="236.2" x2="519.5" y2="236.2" stroke="#44536e" stroke-width="1.5"/>
<line x1="25" y1="149.70" x2="29.5" y2="149.70" stroke="#363636" stroke-width="1.3"/>
<text transform="translate(21.2,149.70) rotate(-90)" font-family='"Liberation Sans", sans-serif' font-size="6.4" text-anchor="middle" fill="#444">0.0</text>
<line x1="25" y1="122.84" x2="29.5" y2="122.84" stroke="#363636" stroke-width="1.3"/>
<text transform="translate(21.2,122.84) rotate(-90)" font-family='"Liberation Sans", sans-serif' font-size="6.4" text-anchor="middle" fill="#444">0.2</text>
<line x1="25" y1="95.98" x2="29.5" y2="95.98" stroke="#363636" stroke-width="1.3"/>
<text transform="translate(21.2,95.98) rotate(-90)" font-family='"Liberation Sans", sans-serif' font-size="6.4" text-anchor="middle" fill="#444">0.4</text>
<line x1="25" y1="69.12" x2="29.5" y2="69.12" stroke="#363636" stroke-width="1.3"/>
<text transform="translate(21.2,69.12) rotate(-90)" font-family='"Liberation Sans", sans-serif' font-size="6.4" text-anchor="middle" fill="#444">0.6</text>
<line x1="25" y1="42.26" x2="29.5" y2="42.26" stroke="#363636" stroke-width="1.3"/>
<text transform="translate(21.2,42.26) rotate(-90)" font-family='"Liberation Sans", sans-serif' font-size="6.4" text-anchor="middle" fill="#444">0.8</text>
<line x1="25" y1="15.40" x2="29.5" y2="15.40" stroke="#363636" stroke-width="1.3"/>
<text transform="translate(21.2,15.40) rotate(-90)" font-family='"Liberation Sans", sans-serif' font-size="6.4" text-anchor="middle" fill="#444">1.0</text>
<text transform="translate(6.7,85.5) rotate(-90)" font-family='"Liberation Sans", sans-serif' font-size="8.8" text-anchor="middle" fill="#111" class="t1">Methylation Ratio</text>
<line x1="88.70" y1="292.8" x2="88.70" y2="296.8" stroke="#333" stroke-width="1.1"/>
<text x="88.70" y="305.5" font-family='"Liberation Sans", sans-serif' font-size="6" text-anchor="middle" fill="#333" class="t2">77042600</text>
<line x1="153.60" y1="292.8" x2="153.60" y2="296.8" stroke="#333" stroke-width="1.1"/>
<text x="153.60" y="305.5" font-family='"Liberation Sans", sans-serif' font-size="6" text-anchor="middle" fill="#333" class="t2">77042800</text>
<line x1="218.50" y1="292.8" x2="218.50" y2="296.8" stroke="#333" stroke-width="1.1"/>
<text x="218.50" y="305.5" font-family='"Liberation Sans", sans-serif' font-size="6" text-anchor="middle" fill="#333" class="t2">77043000</text>
<line x1="283.40" y1="292.8" x2="283.40" y2="296.8" stroke="#333" stroke-width="1.1"/>
<text x="283.40" y="305.5" font-family='"Liberation Sans", sans-serif' font-size="6" text-anchor="middle" fill="#333" class="t2">77043200</text>
<line x1="348.30" y1="292.8" x2="348.30" y2="296.8" stroke="#333" stroke-width="1.1"/>
<text x="348.30" y="305.5" font-family='"Liberation Sans", sans-serif' font-size="6" text-anchor="middle" fill="#333" class="t2">77043400</text>
<line x1="413.20" y1="292.8" x2="413.20" y2="296.8" stroke="#333" stroke-width="1.1"/>
<text x="413.20" y="305.5" font-family='"Liberation Sans", sans-serif' font-size="6" text-anchor="middle" fill="#333" class="t2">77043600</text>
<line x1="478.10" y1="292.8" x2="478.10" y2="296.8" stroke="#333" stroke-width="1.1"/>
<text x="478.10" y="305.5" font-family='"Liberation Sans", sans-serif' font-size="6" text-anchor="middle" fill="#333" class="t2">77043800</text>
<text x="274.6" y="319.5" font-family='"Liberation Sans", sans-serif' font-size="8.9" text-anchor="middle" fill="#111" class="t1">Genomic Region on chr17</text>
<rect x="47.4" y="42.4" width="71.3" height="32.6" fill="#f2f5fb" fill-opacity="0.6" stroke="#444" stroke-width="0.9"/>
<rect x="53.2" y="48.30" width="5.6" height="4.4" fill="#c41414" stroke="#222" stroke-width="0.8"/>
<text x="64.2" y="53.10" font-family='"Liberation Sans", sans-serif' font-size="7.4" fill="#151515" class="t3">GoodSurv</text>
<rect x="53.2" y="56.70" width="5.6" height="4.4" fill="#14146e" stroke="#222" stroke-width="0.8"/>
<text x="64.2" y="61.50" font-family='"Liberation Sans", sans-serif' font-size="7.4" fill="#151515" class="t3">PoorSurv</text>
<rect x="53.2" y="65.10" width="5.6" height="4.4" fill="#d8c030" stroke="#222" stroke-width="0.8"/>
<text x="64.2" y="69.90" font-family='"Liberation Sans", sans-serif' font-size="7.4" fill="#151515" class="t3">NormalSamples</text>
<rect x="99.2" y="209.3" width="114.39999999999999" height="10.3" fill="url(#gene)" stroke="#222" stroke-width="0.9"/>
<text x="103.10000000000001" y="215.6" font-family='"Liberation Sans", sans-serif' font-size="5.3" font-weight="bold" fill="#2a0404" stroke="#2a0404" stroke-width="0.15">KIAA1447</text>
<rect x="331.3" y="209.3" width="118.30000000000001" height="10.3" fill="url(#gene)" stroke="#222" stroke-width="0.9"/>
<text x="335.2" y="215.6" font-family='"Liberation Sans", sans-serif' font-size="5.3" font-weight="bold" fill="#2a0404" stroke="#2a0404" stroke-width="0.15">ACTG1</text>
<line x1="29.5" y1="257.6" x2="519.5" y2="257.6" stroke="#141a7a" stroke-width="1.4"/>
<path d="M33.90,254.80 L35.40,257.60 L33.90,260.40" fill="none" stroke="#141a6a" stroke-width="1.2"/>
<path d="M39.25,254.80 L40.75,257.60 L39.25,260.40" fill="none" stroke="#141a6a" stroke-width="1.2"/>
<path d="M44.60,254.80 L46.10,257.60 L44.60,260.40" fill="none" stroke="#141a6a" stroke-width="1.2"/>
<path d="M436.30,254.80 L437.80,257.60 L436.30,260.40" fill="none" stroke="#141a6a" stroke-width="1.2"/>
<path d="M441.64,254.80 L443.14,257.60 L441.64,260.40" fill="none" stroke="#141a6a" stroke-width="1.2"/>
<path d="M446.98,254.80 L448.48,257.60 L446.98,260.40" fill="none" stroke="#141a6a" stroke-width="1.2"/>
<path d="M452.32,254.80 L453.82,257.60 L452.32,260.40" fill="none" stroke="#141a6a" stroke-width="1.2"/>
<path d="M457.66,254.80 L459.16,257.60 L457.66,260.40" fill="none" stroke="#141a6a" stroke-width="1.2"/>
<path d="M463.00,254.80 L464.50,257.60 L463.00,260.40" fill="none" stroke="#141a6a" stroke-width="1.2"/>
<path d="M468.34,254.80 L469.84,257.60 L468.34,260.40" fill="none" stroke="#141a6a" stroke-width="1.2"/>
<path d="M473.68,254.80 L475.18,257.60 L473.68,260.40" fill="none" stroke="#141a6a" stroke-width="1.2"/>
<path d="M479.02,254.80 L480.52,257.60 L479.02,260.40" fill="none" stroke="#141a6a" stroke-width="1.2"/>
<path d="M484.36,254.80 L485.86,257.60 L484.36,260.40" fill="none" stroke="#141a6a" stroke-width="1.2"/>
<path d="M489.70,254.80 L491.20,257.60 L489.70,260.40" fill="none" stroke="#141a6a" stroke-width="1.2"/>
<path d="M495.04,254.80 L496.54,257.60 L495.04,260.40" fill="none" stroke="#141a6a" stroke-width="1.2"/>
<path d="M500.38,254.80 L501.88,257.60 L500.38,260.40" fill="none" stroke="#141a6a" stroke-width="1.2"/>
<path d="M505.72,254.80 L507.22,257.60 L505.72,260.40" fill="none" stroke="#141a6a" stroke-width="1.2"/>
<path d="M511.06,254.80 L512.56,257.60 L511.06,260.40" fill="none" stroke="#141a6a" stroke-width="1.2"/>
<path d="M516.40,254.80 L517.90,257.60 L516.40,260.40" fill="none" stroke="#141a6a" stroke-width="1.2"/>
<rect x="51" y="252.1" width="384.7" height="11.6" fill="#3a6892" stroke="#1d3450" stroke-width="0.9"/>
</svg>
</body></html>
